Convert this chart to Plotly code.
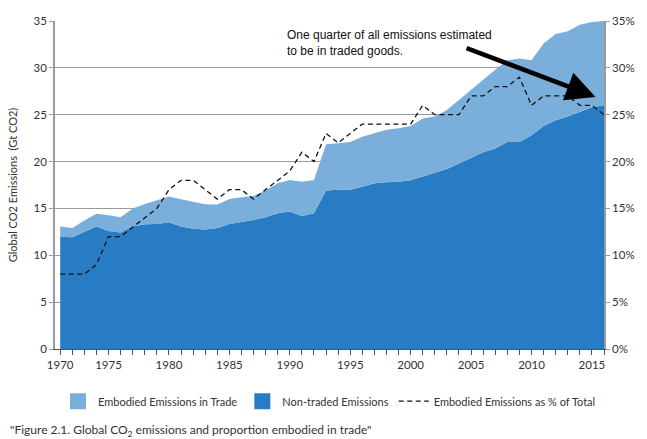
import plotly.graph_objects as go

# years of the series (46 points, first label on the axis reads 1970)
years = list(range(1971, 2017))

# total global CO2 emissions (Gt CO2) = top of the light area
total_emissions = [13.06, 12.91, 13.70, 14.44, 14.27, 14.05, 14.98, 15.47, 15.87, 16.26,
                   15.97, 15.69, 15.44, 15.41, 16.01, 16.19, 16.33, 16.90, 17.68, 18.04,
                   17.86, 18.04, 21.84, 21.95, 22.10, 22.66, 23.00, 23.40, 23.55, 23.80,
                   24.60, 24.80, 25.50, 26.60, 27.70, 28.70, 29.80, 30.80, 31.00, 30.80,
                   32.60, 33.60, 33.90, 34.60, 34.90, 35.00]

# non-traded emissions (Gt CO2) = top of the dark area
non_traded = [11.99, 11.92, 12.52, 13.06, 12.59, 12.42, 13.06, 13.30, 13.34, 13.52,
              13.06, 12.84, 12.74, 12.91, 13.34, 13.52, 13.77, 14.05, 14.48, 14.66,
              14.19, 14.48, 16.90, 17.00, 17.00, 17.30, 17.70, 17.80, 17.86, 18.00,
              18.40, 18.80, 19.20, 19.80, 20.40, 21.00, 21.40, 22.10, 22.10, 22.80,
              23.80, 24.40, 24.80, 25.30, 25.80, 26.00]

# embodied emissions as % of total
embodied_pct = [8, 8, 8, 9, 12, 12, 13, 14, 15, 17,
                18, 18, 17, 16, 17, 17, 16, 17, 18, 19,
                21, 20, 23, 22, 23, 24, 24, 24, 24, 24,
                26, 25, 25, 25, 27, 27, 28, 28, 29, 26,
                27, 27, 27, 26, 26, 25]

tick_years = [1971, 1975, 1980, 1985, 1990, 1995, 2000, 2005, 2010, 2015]
tick_labels = ["1970", "1975", "1980", "1985", "1990", "1995", "2000", "2005", "2010", "2015"]

LIGHT = "#7aafdb"
DARK = "#287cc3"
GRID = "#9a9a9a"
TXT = "#333333"

fig = go.Figure()

fig.add_trace(go.Scatter(x=years, y=non_traded, name="Non-traded Emissions",
                         mode="lines", line=dict(width=0, color=DARK),
                         fill="tozeroy", fillcolor=DARK, showlegend=False))
fig.add_trace(go.Scatter(x=years, y=total_emissions, name="Embodied Emissions in Trade",
                         mode="lines", line=dict(width=0, color=LIGHT),
                         fill="tonexty", fillcolor=LIGHT, showlegend=False))
fig.add_trace(go.Scatter(x=years, y=embodied_pct, name="Embodied Emissions as % of Total",
                         mode="lines", yaxis="y2",
                         line=dict(color="#111111", width=1.3, dash="5px,3.5px"),
                         legendrank=3))

# square legend swatches for the two areas
fig.add_trace(go.Scatter(x=[None], y=[None], mode="markers", name="Embodied Emissions in Trade",
                         marker=dict(symbol="square", size=16, color=LIGHT), legendrank=1))
fig.add_trace(go.Scatter(x=[None], y=[None], mode="markers", name="Non-traded Emissions",
                         marker=dict(symbol="square", size=16, color=DARK), legendrank=2))

fig.update_layout(
    width=647, height=439,
    margin=dict(l=53, r=35, t=21, b=90),
    paper_bgcolor="white", plot_bgcolor="white",
    font=dict(family="Lato, Open Sans, sans-serif", size=11.5, color=TXT),
    showlegend=True,
    legend=dict(orientation="h", x=0.5, xanchor="center", y=-0.115, yanchor="top",
                font=dict(size=11, color=TXT), traceorder="normal",
                itemwidth=30, itemsizing="trace"),
    xaxis=dict(range=[1970.57, 2016], tickvals=tick_years, ticktext=tick_labels,
               showgrid=False, zeroline=False, showline=True, linecolor="#555555",
               linewidth=1, ticks="outside", ticklen=5, tickcolor="#555555",
               minor=dict(dtick=1, tick0=1971, ticks="outside", ticklen=5,
                          tickcolor="#555555", showgrid=False)),
    yaxis=dict(range=[0, 35], dtick=5, showgrid=True, gridcolor=GRID, gridwidth=1,
               zeroline=False, showline=True, linecolor=GRID, linewidth=1.5,
               ticks="outside", ticklen=4, tickcolor=GRID,
               title=dict(text="Global CO2 Emissions  (Gt CO2)", font=dict(size=11, color=TXT),
                          standoff=14)),
    yaxis2=dict(range=[0, 35], dtick=5, overlaying="y", side="right", ticksuffix="%",
                showgrid=False, zeroline=False, showline=True, linecolor=GRID,
                linewidth=1.5, ticks="outside", ticklen=4, tickcolor=GRID),
    annotations=[
        dict(text="One quarter of all emissions estimated<br>to be in traded goods.",
             xref="paper", yref="paper", x=0.419, y=0.985, xanchor="left", yanchor="top",
             align="left", showarrow=False,
             font=dict(family="Liberation Sans, Arial, sans-serif", size=12, color="#111111")),
        dict(text=" ", xref="x", yref="y", x=2015.3, y=26.9, ax=-132, ay=-50,
             showarrow=True, arrowhead=2, arrowsize=1.3, arrowwidth=4.5, arrowcolor="#000000"),
        dict(text="\"Figure 2.1. Global CO<sub>2</sub> emissions and proportion embodied in trade\"",
             xref="paper", yref="paper", x=-0.086, y=-0.247, xanchor="left", yanchor="middle",
             showarrow=False, font=dict(size=12, color=TXT)),
    ],
)

fig.write_html("out.html", config={"displayModeBar": False},
               post_script="document.body.style.margin='0';")
